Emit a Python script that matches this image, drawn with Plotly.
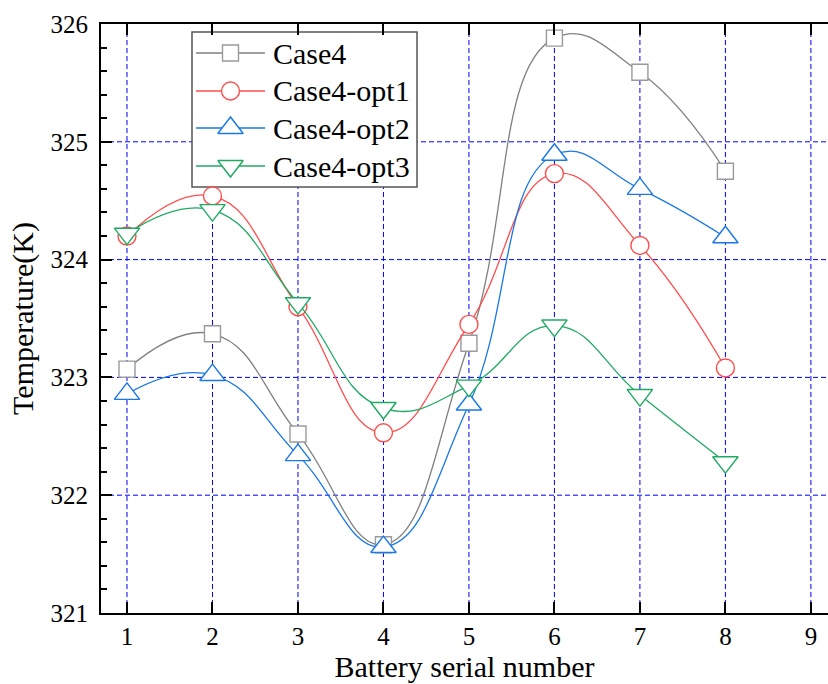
import plotly.graph_objects as go

# Battery positions along the pack
battery = [1, 2, 3, 4, 5, 6, 7, 8]

# Peak temperature (K) of each battery for the baseline and the three optimised layouts
case4 = [323.07, 323.37, 322.52, 321.58, 323.29, 325.88, 325.59, 324.75]
case4_opt1 = [324.20, 324.54, 323.60, 322.53, 323.45, 324.73, 324.12, 323.08]
case4_opt2 = [322.86, 323.02, 322.34, 321.56, 322.77, 324.89, 324.60, 324.19]
case4_opt3 = [324.22, 324.42, 323.63, 322.74, 322.93, 323.44, 322.85, 322.28]

series_names = ["Case4", "Case4-opt1", "Case4-opt2", "Case4-opt3"]
x_ticks = [1, 2, 3, 4, 5, 6, 7, 8, 9]
y_ticks = [321, 322, 323, 324, 325, 326]

FONT = "Liberation Serif"
GRID_BLUE = "#0000ff"
W, H = 828, 684
ML, MR, MT, MB = 101, 0, 24, 71
PW, PH = W - ML - MR, H - MT - MB


def px(x):
    return (x - ML) / PW


def py(y):
    return 1 - (y - MT) / PH


styles = [
    ("#808080", "#9a9a9a", "square", 16),
    ("#ff4d4d", "#ff4d4d", "circle", 18),
    ("#1a78e6", "#1a78e6", "triangle-up", 22),
    ("#1faa62", "#1faa62", "triangle-down", 22),
]
values_list = [case4, case4_opt1, case4_opt2, case4_opt3]

fig = go.Figure()

# Dashed blue grid at each tick of both axes
grid_line = dict(color=GRID_BLUE, width=1, dash="5px,3px")
for yv in y_ticks[1:-1]:
    fig.add_shape(type="line", xref="paper", yref="y", layer="below",
                  x0=0, x1=1, y0=yv, y1=yv, line=grid_line)
for xv in x_ticks:
    fig.add_shape(type="line", xref="x", yref="paper", layer="below",
                  x0=xv, x1=xv, y0=0, y1=1, line=grid_line)

for name, values, (line_color, marker_color, symbol, size) in zip(series_names, values_list, styles):
    fig.add_trace(go.Scatter(
        x=battery, y=values, name=name, mode="lines+markers",
        line=dict(color=line_color, width=1.3, shape="spline", smoothing=1.3),
        marker=dict(symbol=symbol, size=size, color="white",
                    line=dict(color=marker_color, width=1.4)),
        cliponaxis=False, showlegend=False,
    ))

# Legend panel: white box over the grid, long line samples with a symbol, serif labels
legend_box = dict(x0=192, x1=417, y0=32, y1=187)
fig.add_shape(type="rect", xref="paper", yref="paper", layer="between",
              x0=px(legend_box["x0"]), x1=px(legend_box["x1"]),
              y0=py(legend_box["y0"]), y1=py(legend_box["y1"]),
              fillcolor="white", line=dict(color="#555555", width=1.5))

entry_rows = [53, 91, 128, 166]
for name, row, (line_color, marker_color, symbol, size) in zip(series_names, entry_rows, styles):
    fig.add_trace(go.Scatter(
        x=[px(196), px(265)], y=[py(row), py(row)], mode="lines",
        line=dict(color=line_color, width=1.3),
        xaxis="x2", yaxis="y2", showlegend=False, hoverinfo="skip",
    ))
    fig.add_trace(go.Scatter(
        x=[px(230.5)], y=[py(row)], mode="markers",
        marker=dict(symbol=symbol, size=size, color="white",
                    line=dict(color=marker_color, width=1.4)),
        xaxis="x2", yaxis="y2", showlegend=False, hoverinfo="skip",
    ))
    fig.add_annotation(x=px(271), y=py(row), xref="paper", yref="paper",
                       text=name, showarrow=False, xanchor="left", yanchor="middle",
                       font=dict(family=FONT, size=30, color="black"))

axis_common = dict(
    showline=True, linecolor="black", linewidth=2,
    ticks="inside", ticklen=11, tickwidth=2, tickcolor="black",
    zeroline=False, showgrid=False,
    tickfont=dict(family=FONT, size=25, color="black"),
)

fig.update_xaxes(
    **axis_common,
    range=[0.696, 9.2], tickvals=x_ticks, mirror="ticks",
    title=dict(text="Battery serial number",
               font=dict(family=FONT, size=30, color="black"), standoff=3),
)
fig.update_yaxes(
    **axis_common,
    range=[321, 326], tickvals=y_ticks, mirror=False, ticklabelstandoff=6,
    minor=dict(ticks="inside", ticklen=6, tickwidth=2, tickcolor="black",
               dtick=0.2, showgrid=False),
    title=dict(text="Temperature(K)",
               font=dict(family=FONT, size=30, color="black"), standoff=8),
)

fig.update_layout(
    width=W, height=H,
    margin=dict(l=ML, r=MR, t=MT, b=MB),
    plot_bgcolor="white", paper_bgcolor="white",
    font=dict(family=FONT, color="black"),
    xaxis2=dict(overlaying="x", range=[0, 1], visible=False, fixedrange=True),
    yaxis2=dict(overlaying="y", range=[0, 1], visible=False, fixedrange=True),
    showlegend=False,
)

fig.write_html("out.html")
